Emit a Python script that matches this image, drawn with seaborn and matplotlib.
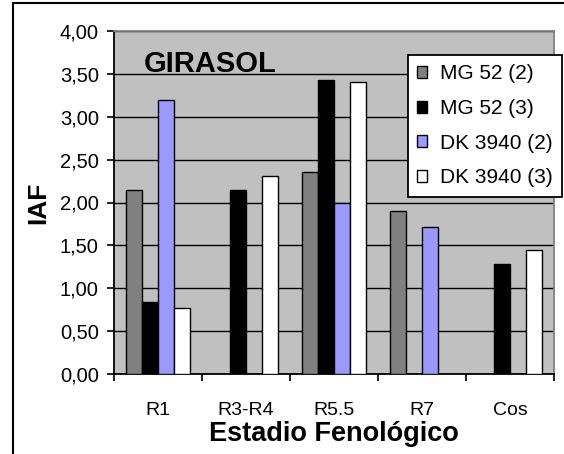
import numpy as np
import pandas as pd
import matplotlib
matplotlib.use("Agg")
import matplotlib.pyplot as plt
from matplotlib.lines import Line2D
import seaborn as sns

categories = ["R1", "R3-R4", "R5.5", "R7", "Cos"]
series_names = ["MG 52 (2)", "MG 52 (3)", "DK 3940 (2)", "DK 3940 (3)"]
mg52_2 = [2.15, np.nan, 2.36, 1.90, np.nan]
mg52_3 = [0.84, 2.15, 3.43, np.nan, 1.28]
dk3940_2 = [3.20, np.nan, 1.99, 1.71, np.nan]
dk3940_3 = [0.77, 2.31, 3.41, np.nan, 1.45]
colors = ["#808080", "#000000", "#9999FF", "#FFFFFF"]
y_ticks = [0.0, 0.5, 1.0, 1.5, 2.0, 2.5, 3.0, 3.5, 4.0]

rows = []
for name, vals in zip(series_names, [mg52_2, mg52_3, dk3940_2, dk3940_3]):
    for c, v in zip(categories, vals):
        rows.append({"Estadio": c, "Serie": name, "IAF": v})
df = pd.DataFrame(rows)

sns.set_theme(style="white")
plt.rcParams["font.family"] = ["Liberation Sans", "DejaVu Sans"]
plt.rcParams["text.color"] = "black"
plt.rcParams["axes.labelcolor"] = "black"
plt.rcParams["xtick.color"] = "black"
plt.rcParams["ytick.color"] = "black"

W, H = 564, 454
AX_L, AX_R, AX_T, AX_B = 114, 554, 31, 374
fig = plt.figure(figsize=(W/100, H/100), dpi=100)
ax = fig.add_axes([AX_L/W, 1-AX_B/H, (AX_R-AX_L)/W, (AX_B-AX_T)/H])
ax.set_facecolor("#C0C0C0")

sns.barplot(data=df, x="Estadio", y="IAF", hue="Serie", order=categories,
            hue_order=series_names, palette=colors, width=0.727,
            edgecolor="black", linewidth=1.0, saturation=1, ax=ax, zorder=3)

ax.set_ylim(0, 4.0)
ax.set_xlim(-0.5, len(categories) - 0.5)
ax.set_yticks(y_ticks)
ax.set_yticklabels([f"{t:.2f}".replace(".", ",") for t in y_ticks], fontsize=14.5)
ax.yaxis.grid(True, color="black", linewidth=1.0, zorder=0)
ax.set_axisbelow(True)
ax.tick_params(axis="y", which="major", left=True, length=5, width=1.2, color="black", pad=6)
ax.tick_params(axis="x", which="major", length=0, pad=20, labelsize=14)
ax.set_xticks(np.arange(-0.5, len(categories)), minor=True)
ax.tick_params(axis="x", which="minor", bottom=True, length=5, width=1.2, color="black")

for s in ["left", "bottom"]:
    ax.spines[s].set_color("black")
    ax.spines[s].set_linewidth(1.3)
for s in ["top", "right"]:
    ax.spines[s].set_color("#808080")
    ax.spines[s].set_linewidth(1.3)

ax.set_xlabel("Estadio Fenológico", fontsize=19.5, fontweight="bold")
ax.xaxis.set_label_coords(0.5, (AX_B-421)/(AX_B-AX_T))
ax.set_ylabel("IAF", fontsize=19, fontweight="bold")
ax.yaxis.set_label_coords((50.5-AX_L)/(AX_R-AX_L), 0.5)

ax.text((144-AX_L)/(AX_R-AX_L), 1-(72-AX_T)/(AX_B-AX_T), "GIRASOL", transform=ax.transAxes,
        fontsize=21, fontweight="bold", va="baseline", ha="left")

handles, labels = ax.get_legend_handles_labels()
ax.get_legend().remove()
leg = fig.legend(handles, labels, loc="upper right",
                 bbox_to_anchor=(562/W, 1-55/H), fontsize=15,
                 frameon=True, fancybox=False, edgecolor="black",
                 handlelength=0.5, handleheight=0.5, handletextpad=0.6,
                 labelspacing=0.75, borderpad=0.45, borderaxespad=0,
                 framealpha=1)
leg.get_frame().set_linewidth(1.3)

fig.add_artist(Line2D([13/W, 13/W], [0, 1-3/H], color="black", linewidth=1.5,
                      transform=fig.transFigure))
fig.add_artist(Line2D([13/W, 1], [1-3/H, 1-3/H], color="black", linewidth=1.5,
                      transform=fig.transFigure))

fig.savefig("out.png", dpi=100)
